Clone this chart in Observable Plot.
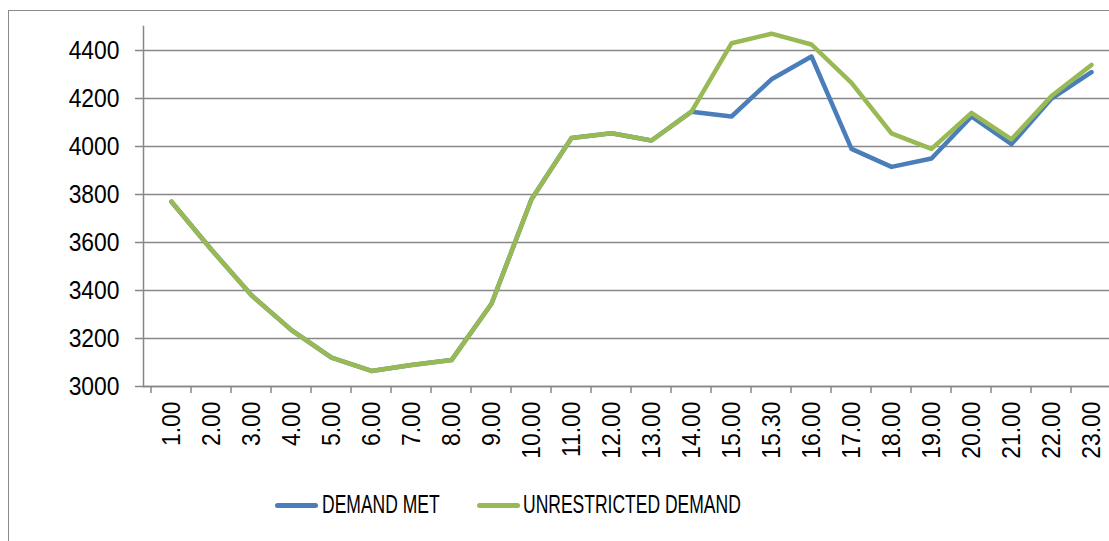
<!DOCTYPE html>
<html>
<head>
<meta charset="utf-8">
<script src="https://cdn.jsdelivr.net/npm/d3@7"></script>
<script src="https://cdn.jsdelivr.net/npm/@observablehq/plot@0.6"></script>
<style>
  html, body { margin: 0; padding: 0; background: #fff; overflow: hidden; }
  #wrap { position: relative; width: 1109px; height: 541px; overflow: hidden; }
  #border { position: absolute; left: 8px; top: 10px; width: 1200px; height: 600px; border: 1px solid #8a8a8a; box-sizing: border-box; }
  #chart { position: absolute; left: 0; top: 0; width: 1122px; }
  #chart svg { max-width: none !important; }
  .swatch { position: absolute; height: 5px; border-radius: 3px; }
  .ltext { position: absolute; font-family: "Liberation Sans", Arial, sans-serif; font-size: 25px; line-height: 25px; color: #000;
    transform: scaleX(0.7); transform-origin: 0 50%; white-space: nowrap; }
</style>
</head>
<body>
<div id="wrap">
  <div id="border"></div>
  <div id="chart"></div>
  <div id="legend"></div>
</div>
<script>
const categories = ["1.00","2.00","3.00","4.00","5.00","6.00","7.00","8.00","9.00","10.00","11.00","12.00","13.00","14.00","15.00","15.30","16.00","17.00","18.00","19.00","20.00","21.00","22.00","23.00"];
const demandMet = [3770,3570,3380,3235,3120,3065,3090,3110,3345,3780,4035,4055,4025,4145,4125,4280,4375,3990,3915,3950,4125,4010,4200,4310];
const unrestricted = [3770,3570,3380,3235,3120,3065,3090,3110,3345,3780,4035,4055,4025,4145,4430,4470,4425,4265,4055,3990,4140,4030,4210,4340];
const seriesNames = ["DEMAND MET", "UNRESTRICTED DEMAND"];
const seriesColors = ["#4a7ebb", "#98b954"];
const yTicks = [3000,3200,3400,3600,3800,4000,4200,4400];

const rows = [];
categories.forEach((c, i) => {
  rows.push({cat: c, value: demandMet[i], series: seriesNames[0]});
  rows.push({cat: c, value: unrestricted[i], series: seriesNames[1]});
});

const gray = "#878787";
const font = '"Liberation Sans", Arial, sans-serif';

// custom mark: x-axis ticks at category boundaries
function boundaryTicks(index, scales, values, dimensions) {
  const x = scales.x;
  const bw = x.bandwidth();
  const y0 = dimensions.height - dimensions.marginBottom;
  const xs = categories.map(c => x(c)).concat([x(categories[categories.length - 1]) + bw]);
  const g = d3.create("svg:g");
  g.selectAll("line").data(xs).join("line")
    .attr("x1", d => d).attr("x2", d => d)
    .attr("y1", y0).attr("y2", y0 + 7)
    .attr("stroke", gray).attr("stroke-width", 1.5);
  return g.node();
}

const chart = Plot.plot({
  width: 1122,
  height: 470,
  marginLeft: 143,
  marginRight: 4,
  marginTop: 26,
  marginBottom: 84,
  style: {fontFamily: font, fontSize: "26px", color: "#000", background: "transparent", overflow: "visible", maxWidth: "none"},
  x: {type: "band", domain: categories, padding: 0, label: null},
  y: {domain: [3000, 4500], label: null},
  color: {domain: seriesNames, range: seriesColors},
  marks: [
    Plot.ruleY(yTicks, {stroke: gray, strokeWidth: 1.5}),
    Plot.frame({anchor: "left", stroke: gray, strokeWidth: 1.5}),
    Plot.frame({anchor: "bottom", stroke: gray, strokeWidth: 1.5}),
    Plot.axisY({ticks: yTicks, tickSize: 8, tickPadding: 16, stroke: gray, strokeWidth: 1.5, fontSize: 26, tickFormat: d => String(d)}),
    Plot.axisX({tickSize: 0, tickPadding: 15, tickRotate: -90, fontSize: 26}),
    boundaryTicks,
    Plot.line(rows, {x: "cat", y: "value", z: "series", stroke: "series", strokeWidth: 4.5, strokeLinejoin: "round", strokeLinecap: "round"})
  ]
});
document.getElementById("chart").appendChild(chart);

// condense tick label glyphs horizontally (along the text direction)
chart.querySelectorAll("g[aria-label='y-axis tick label'] text, g[aria-label='x-axis tick label'] text").forEach(t => {
  const tr = t.getAttribute("transform") || "";
  t.setAttribute("transform", tr + " scale(0.88,1)");
});

const legend = document.getElementById("legend");
const legendPos = [{sw: 275, tx: 322}, {sw: 477, tx: 523}];
seriesNames.forEach((n, i) => {
  const sw = document.createElement("div");
  sw.className = "swatch";
  sw.style.left = legendPos[i].sw + "px";
  sw.style.width = "43px";
  sw.style.top = "503px";
  sw.style.background = seriesColors[i];
  const t = document.createElement("div");
  t.className = "ltext";
  t.style.left = legendPos[i].tx + "px";
  t.style.top = "492px";
  t.textContent = n;
  legend.appendChild(sw);
  legend.appendChild(t);
});
</script>
</body>
</html>
